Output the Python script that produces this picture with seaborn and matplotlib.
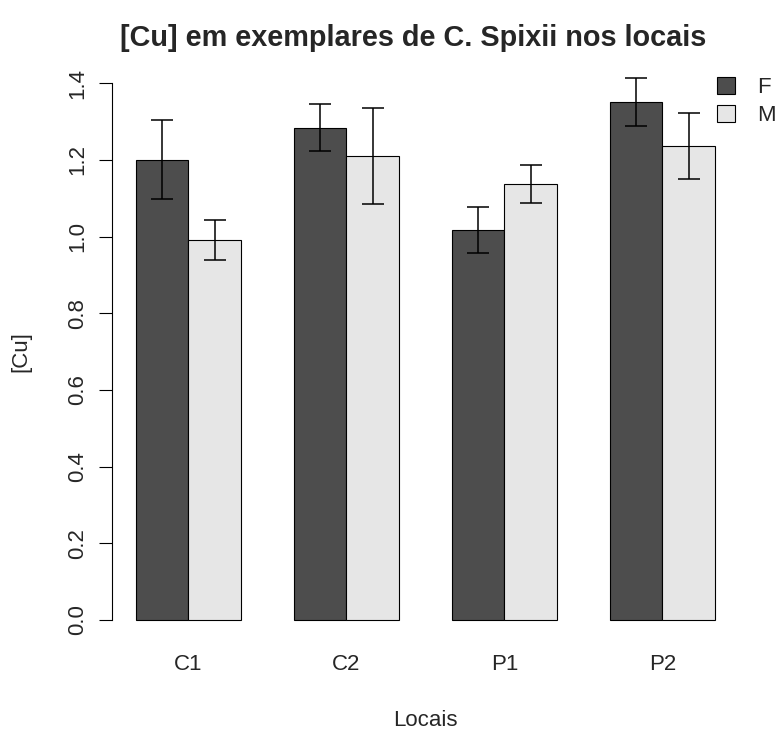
import numpy as np
import pandas as pd
import seaborn as sns
import matplotlib.pyplot as plt

locais = ['C1', 'C2', 'P1', 'P2']
sexos = ['F', 'M']
cu_f = [1.200, 1.284, 1.017, 1.351]
cu_m = [0.991, 1.210, 1.137, 1.235]
erro_f = [0.103, 0.062, 0.060, 0.062]
erro_m = [0.052, 0.125, 0.050, 0.086]
cores = ['#4D4D4D', '#E6E6E6']

sns.set_style('white')
plt.rcParams['font.family'] = ['Liberation Sans', 'DejaVu Sans']

df = pd.DataFrame({
    'Local': locais * 2,
    'Sexo': ['F'] * len(locais) + ['M'] * len(locais),
    'Cu': cu_f + cu_m,
})
erros = {'F': erro_f, 'M': erro_m}

fig = plt.figure(figsize=(7.79, 7.31), dpi=100)
ax = fig.add_axes([0.1444, 0.1224, 0.8032, 0.7933])

sns.barplot(data=df, x='Local', y='Cu', hue='Sexo', hue_order=sexos, order=locais,
            palette=cores, width=2/3, errorbar=None, saturation=1,
            edgecolor='black', linewidth=0.8, ax=ax)

# error bars on top of each bar
for sexo, cont in zip(sexos, ax.containers):
    xs = [b.get_x() + b.get_width() / 2 for b in cont]
    hs = [b.get_height() for b in cont]
    ax.errorbar(xs, hs, yerr=erros[sexo], fmt='none', ecolor='black',
                elinewidth=1.1, capsize=8, capthick=1.1)

ax.set_xlim(-0.48, 3.48)
ax.set_ylim(-0.056, 1.456)
for s in ['top', 'right', 'bottom']:
    ax.spines[s].set_visible(False)
ax.spines['left'].set_bounds(0, 1.4)
ax.spines['left'].set_color('black')
ax.spines['left'].set_linewidth(0.8)

ax.set_yticks(np.arange(0, 1.41, 0.2))
ax.set_yticklabels([f'{v:.1f}' for v in np.arange(0, 1.41, 0.2)], rotation=90, va='center')
ax.tick_params(axis='y', left=True, length=9.4, width=0.8, pad=8, labelsize=16, color='black')
ax.tick_params(axis='x', length=0, pad=9, labelsize=16)

ax.set_title('[Cu] em exemplares de C. Spixii nos locais', fontsize=20.8,
             fontweight='bold', pad=11, x=0.48)
ax.set_xlabel('Locais', fontsize=16, labelpad=25)
ax.set_ylabel('[Cu]', fontsize=16, labelpad=26)

handles, labels = ax.get_legend_handles_labels()
ax.legend(handles, labels, loc='upper left', bbox_to_anchor=(717 / 779, 1 - 77 / 731),
          bbox_transform=fig.transFigure, frameon=False, borderpad=0, borderaxespad=0,
          handlelength=0.8, handleheight=0.8, handletextpad=1.0,
          labelspacing=0.3, fontsize=16)

fig.savefig('out.png', dpi=100)
